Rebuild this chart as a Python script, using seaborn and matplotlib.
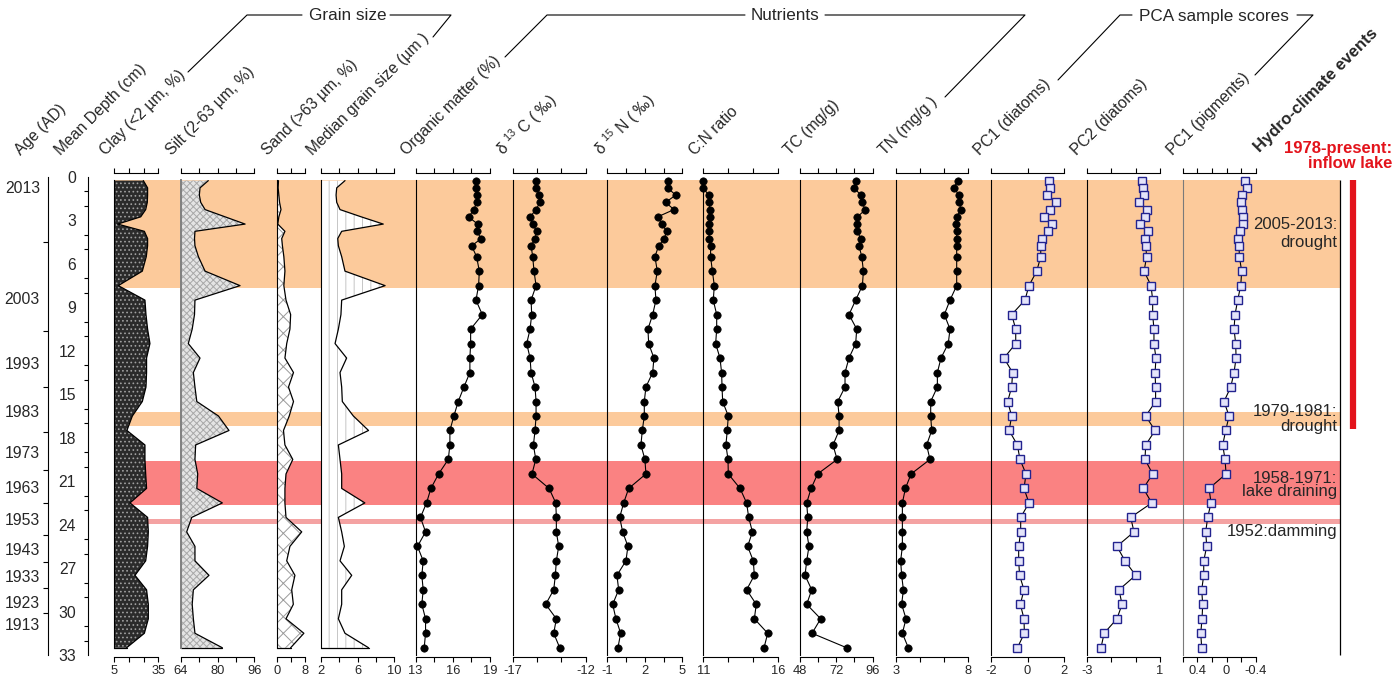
import matplotlib
matplotlib.use("Agg")
import matplotlib.pyplot as plt
import seaborn as sns
import numpy as np
from matplotlib.lines import Line2D

# ---------------- data ----------------
depth = [0.25, 0.75, 1.25, 1.75, 2.25, 2.75, 3.25, 3.75, 4.25, 4.75,
         5.5, 6.5, 7.5, 8.5, 9.5, 10.5, 11.5, 12.5, 13.5, 14.5, 15.5, 16.5,
         17.5, 18.5, 19.5, 20.5, 21.5, 22.5, 23.5, 24.5, 25.5, 26.5, 27.5,
         28.5, 29.5, 30.5, 31.5, 32.5]

clay = [24.8, 27.7, 27.7, 27.5, 26.4, 23.0, 7.3, 25.5, 27.7, 27.7,
        26.8, 24.1, 7.7, 25.9, 26.6, 27.7, 29.3, 27.0, 27.0, 26.6, 24.1, 17.3,
        13.6, 25.9, 25.9, 26.4, 27.0, 15.7, 27.7, 28.2, 27.7, 26.4, 19.1,
        27.0, 28.2, 28.2, 25.5, 13.4]
silt = [76.0, 72.4, 72.1, 72.7, 74.6, 83.3, 92.0, 70.2, 70.0, 70.2,
        71.7, 74.6, 89.8, 70.2, 70.0, 69.0, 67.3, 72.4, 69.5, 70.2, 71.0, 80.4,
        85.0, 70.5, 70.2, 71.4, 71.0, 82.1, 68.8, 66.6, 70.2, 70.2, 76.3,
        69.5, 69.0, 69.5, 70.2, 82.1]
sand = [0.5, 0.4, 0.6, 0.8, 1.2, 0.6, 0.3, 2.3, 1.4, 1.6,
        2.0, 2.3, 2.0, 2.6, 3.9, 3.7, 2.8, 2.3, 4.7, 3.3, 4.7, 3.5,
        1.9, 2.3, 4.5, 2.6, 2.3, 2.3, 2.6, 7.0, 3.7, 2.8, 5.1,
        4.2, 4.65, 2.6, 7.6, 3.9]
median = [4.64, 3.74, 3.67, 3.74, 4.1, 6.4, 8.8, 4.28, 3.85, 3.92,
          4.28, 4.64, 9.0, 4.28, 4.2, 3.92, 3.56, 4.82, 4.1, 4.28, 4.35, 5.55,
          7.2, 3.92, 4.1, 4.28, 4.28, 6.8, 3.92, 4.28, 4.57, 4.1, 5.37,
          4.28, 4.28, 3.92, 4.64, 7.2]

om = [17.87, 17.87, 17.92, 17.92, 17.71, 17.28, 18.0, 17.92, 18.3, 17.52,
      17.92, 18.14, 18.08, 17.87, 18.38, 17.44, 17.44, 17.38, 17.38, 16.9, 16.44, 16.09,
      15.77, 15.77, 15.64, 14.86, 14.24, 13.89, 13.4, 13.81, 13.16, 13.62, 13.51,
      13.62, 13.51, 13.81, 13.81, 13.7]
d13c = [-15.40, -15.40, -15.17, -15.13, -15.40, -15.81, -15.63, -15.36, -15.47, -15.74,
        -15.63, -15.54, -15.40, -15.74, -15.70, -15.81, -16.04, -15.81, -15.74, -15.47, -15.40, -15.40,
        -15.47, -15.58, -15.42, -15.68, -14.51, -14.05, -14.01, -14.01, -13.85, -14.01, -14.08,
        -14.19, -14.74, -14.01, -14.19, -13.78]
d15n = [3.83, 3.83, 4.47, 3.67, 4.33, 3.03, 3.37, 3.75, 3.56, 3.11,
        2.81, 3.0, 2.81, 2.89, 2.63, 2.25, 2.31, 2.73, 2.63, 2.09, 1.96, 1.96,
        1.8, 1.69, 2.01, 2.09, 0.71, 0.31, -0.01, 0.23, 0.65, 0.49, -0.23,
        -0.09, -0.57, -0.31, 0.07, -0.15]
cn = [10.96, 10.96, 11.38, 11.38, 11.45, 11.45, 11.38, 11.40, 11.38, 11.49,
      11.49, 11.61, 11.74, 11.67, 11.90, 11.90, 11.83, 12.12, 12.23, 12.26, 12.30, 12.68,
      12.61, 12.52, 12.66, 12.68, 13.47, 13.91, 14.05, 14.30, 13.98, 14.36, 14.43,
      13.91, 14.56, 14.43, 15.33, 15.08]
tc = [84.8, 83.9, 88.1, 88.8, 91.2, 86.0, 85.5, 85.9, 88.1, 87.0,
      88.8, 89.9, 89.2, 84.8, 80.4, 85.5, 84.8, 80.4, 77.8, 77.8, 73.0, 73.9,
      73.9, 69.9, 72.6, 59.8, 55.5, 52.6, 53.3, 52.6, 54.1, 52.6, 51.5,
      55.9, 52.6, 61.8, 56.1, 78.9]
tn = [7.27, 7.01, 7.36, 7.36, 7.50, 7.20, 7.15, 7.20, 7.20, 7.20,
      7.20, 7.20, 7.20, 6.74, 6.35, 6.74, 6.62, 6.12, 5.87, 5.87, 5.41, 5.41,
      5.48, 5.13, 5.36, 4.06, 3.67, 3.46, 3.46, 3.46, 3.46, 3.34, 3.41,
      3.53, 3.41, 3.71, 3.46, 3.87]
pc1_diatoms = [1.17, 1.22, 1.04, 1.53, 1.22, 0.91, 1.35, 1.10, 0.77, 0.72,
               0.72, 0.50, 0.08, -0.14, -0.86, -0.64, -0.64, -1.28, -0.81, -0.86, -1.08, -0.86,
               -1.0, -0.55, -0.41, -0.08, -0.19, 0.08, -0.37, -0.37, -0.48, -0.48, -0.43,
               -0.19, -0.39, -0.19, -0.17, -0.55]
pc2_diatoms = [0.04, 0.07, 0.15, -0.15, 0.27, 0.20, -0.09, 0.35, 0.18, 0.22,
               0.27, 0.13, 0.51, 0.60, 0.60, 0.67, 0.67, 0.78, 0.73, 0.76, 0.76, 0.22,
               0.73, 0.22, 0.18, 0.60, 0.09, 0.55, -0.60, -0.42, -1.35, -0.91, -0.33,
               -1.24, -1.07, -1.35, -2.05, -2.22]
pc1_pigments = [-0.254, -0.277, -0.217, -0.199, -0.208, -0.222, -0.231, -0.185, -0.163, -0.172,
                -0.176, -0.208, -0.195, -0.153, -0.117, -0.103, -0.126, -0.131, -0.103, -0.058, 0.034, -0.035,
                0.011, 0.052, 0.020, 0.006, 0.239, 0.212, 0.258, 0.285, 0.271, 0.312, 0.312,
                0.340, 0.326, 0.335, 0.353, 0.340]

age_labels = [2013, 2003, 1993, 1983, 1973, 1963, 1953, 1943, 1933, 1923, 1913]
age_depths = [0.67, 8.38, 12.87, 16.17, 18.97, 21.43, 23.62, 25.69, 27.53, 29.33, 30.89]
age_minor_depths = [4.47, 10.63, 14.48, 17.59, 20.23, 22.53, 24.72, 26.61, 28.40, 30.13]

event_top = [0.2, 16.25, 19.6, 23.62]
event_bottom = [7.64, 17.18, 22.63, 23.94]
event_colors = ["#fcca9b", "#fcca9b", "#fa8282", "#f4a2a2"]
event_texts = ["2005-2013:\ndrought", "1979-1981:\ndrought",
               "1958-1971:\nlake draining", "1952:damming"]
inflow_top, inflow_bottom = 0.2, 17.4

# ---------------- style ----------------
sns.set_style("white")
plt.rcParams["font.family"] = ["Liberation Sans", "DejaVu Sans"]
plt.rcParams["mathtext.fontset"] = "custom"
plt.rcParams["mathtext.rm"] = "Liberation Sans"
plt.rcParams["mathtext.default"] = "regular"
plt.rcParams["axes.unicode_minus"] = False
plt.rcParams["hatch.linewidth"] = 0.7

W, H = 1398, 689
fig = plt.figure(figsize=(W / 100, H / 100), dpi=100, facecolor="white")
Y0, Y1 = 177, 655


def fx(x):
    return x / W


def fy(y):
    return 1 - y / H


def axpix(x0, x1, y0=Y0, y1=Y1):
    return fig.add_axes([x0 / W, 1 - y1 / H, (x1 - x0) / W, (y1 - y0) / H])


# background bands
bg = axpix(114, 1340)
bg.set_xlim(0, 1)
bg.set_ylim(33, 0)
bg.axis("off")
for t, b, c in zip(event_top, event_bottom, event_colors):
    bg.axhspan(t, b, color=c, lw=0, zorder=0)
bg.vlines(1.0, 0.2, 33, color="black", lw=0.9, clip_on=False)
bg.vlines((1353 - 114) / (1340 - 114), inflow_top, inflow_bottom, color="#e3131b",
          lw=4.5, clip_on=False)

# ---------------- axes helpers ----------------
def style(ax, lo, hi, ticks, labels, left_bottom=33.0, leftcolor="black", leftlw=0.8):
    ax.set_xlim(lo, hi)
    ax.set_ylim(33, 0)
    ax.patch.set_alpha(0)
    ax.spines["right"].set_visible(False)
    ax.spines["left"].set_bounds(0.2, left_bottom)
    ax.spines["left"].set_color(leftcolor)
    ax.spines["top"].set_position(("outward", 3.2))
    ax.spines["bottom"].set_position(("outward", 1.4))
    for s in ["top", "bottom"]:
        ax.spines[s].set_linewidth(0.8)
        ax.spines[s].set_color("black")
    ax.spines["left"].set_linewidth(leftlw)
    ax.set_xticks(ticks)
    ax.set_xticklabels(labels)
    ax.set_yticks([])
    ax.set_xlabel("")
    ax.set_ylabel("")
    ax.tick_params(axis="x", top=True, bottom=True, labeltop=False, labelbottom=True,
                   direction="out", length=3.6, width=0.8, labelsize=9.3, pad=2.5,
                   color="black")
    ax.tick_params(axis="y", left=False, labelleft=False)


def fill_panel(x0, x1, lo, vals, hi, ticks, labels, face, hatch, hcolor,
               leftcolor="black", leftlw=0.8):
    ax = axpix(x0, x1)
    ax.fill_betweenx(depth, lo, vals, facecolor=face, edgecolor=hcolor, hatch=hatch,
                     linewidth=0, zorder=1)
    sns.lineplot(x=vals, y=depth, orient="y", estimator=None, errorbar=None,
                 color="black", linewidth=0.9, ax=ax, zorder=2)
    ax.plot([lo, vals[-1]], [depth[-1], depth[-1]], color="black", lw=0.9, zorder=2)
    style(ax, lo, hi, ticks, labels, left_bottom=32.5, leftcolor=leftcolor, leftlw=leftlw)
    return ax


def dot_panel(x0, x1, lo, hi, vals, ticks, labels, pca=False, leftcolor="black"):
    ax = axpix(x0, x1)
    if pca:
        sns.lineplot(x=vals, y=depth, orient="y", estimator=None, errorbar=None,
                     color="black", linewidth=0.8, marker="s", markersize=5.2,
                     markerfacecolor="#e4e4fa", markeredgecolor="#23238f",
                     markeredgewidth=1.0, ax=ax, clip_on=False)
    else:
        sns.lineplot(x=vals, y=depth, orient="y", estimator=None, errorbar=None,
                     color="black", linewidth=0.8, marker="o", markersize=5.3,
                     markerfacecolor="black", markeredgecolor="black",
                     markeredgewidth=0.5, ax=ax, clip_on=False)
    style(ax, lo, hi, ticks, labels, leftcolor=leftcolor)
    return ax


# grain size panels
fill_panel(114.3, 158.3, 5, clay, 35, [5, 15, 25, 35], ["5", "", "", "35"],
           "#2b2b2b", "....", "#a0a0a0")
fill_panel(180.7, 254.3, 64, silt, 96, [64, 72, 80, 88, 96], ["64", "", "80", "", "96"],
           "#e4e4e4", "xxxxx", "#a8a8a8", leftcolor="#808080", leftlw=1.4)
fill_panel(276.7, 305.3, 0, sand, 8, [0, 4, 8], ["0", "", "8"],
           "white", "xx", "#9a9a9a")
fill_panel(320.7, 394.3, 2, median, 10, [2, 4, 6, 8, 10], ["2", "", "6", "", "10"],
           "white", "||", "#c6c6c6")

# nutrient panels
dot_panel(415.5, 490.0, 13, 19, om, [13, 14.5, 16, 17.5, 19], ["13", "", "16", "", "19"])
dot_panel(512.7, 585.7, -17, -12, d13c, [-17, -17 + 5 / 3, -17 + 10 / 3, -12], ["-17", "", "", "-12"])
dot_panel(607.3, 682.3, -1, 5, d15n, [-1, 0.5, 2, 3.5, 5], ["-1", "", "2", "", "5"])
dot_panel(703.3, 777.7, 11, 16, cn, [11, 11 + 5 / 3, 11 + 10 / 3, 16], ["11", "", "", "16"])
dot_panel(799.7, 872.7, 48, 96, tc, [48, 60, 72, 84, 96], ["48", "", "72", "", "96"])
dot_panel(895.7, 968.3, 3, 8, tn, [3, 3 + 5 / 3, 3 + 10 / 3, 8], ["3", "", "", "8"])

# PCA panels
dot_panel(990.7, 1064.3, -2, 2, pc1_diatoms, [-2, 0, 2], ["-2", "0", "2"], pca=True)
dot_panel(1086.7, 1160.0, -3, 1, pc2_diatoms, [-3, -3 + 4 / 3, -3 + 8 / 3, 1], ["-3", "", "", "1"], pca=True)
dot_panel(1182.7, 1255.7, 0.6, -0.4, pc1_pigments, [0.6, 0.4, 0.2, 0.0, -0.2, -0.4],
          ["", "0.4", "", "0", "", "-0.4"], pca=True, leftcolor="#7a7a7a")

# age axis
ax_age = axpix(48, 49)
ax_age.set_ylim(33, 0)
ax_age.patch.set_alpha(0)
for s in ["right", "top", "bottom"]:
    ax_age.spines[s].set_visible(False)
ax_age.spines["left"].set_linewidth(0.8)
ax_age.spines["left"].set_color("black")
ax_age.set_xticks([])
ax_age.set_yticks(age_depths)
ax_age.set_yticklabels([str(a) for a in age_labels])
ax_age.set_yticks(age_minor_depths, minor=True)
ax_age.tick_params(axis="y", which="major", direction="out", length=4.8, width=0.8,
                   labelsize=11.3, pad=1.0, color="black")
ax_age.tick_params(axis="y", which="minor", direction="out", length=3.6, width=0.8,
                   color="black", left=True)

# depth axis
ax_d = axpix(88, 89)
ax_d.set_ylim(33, 0)
ax_d.patch.set_alpha(0)
for s in ["right", "top", "bottom"]:
    ax_d.spines[s].set_visible(False)
ax_d.spines["left"].set_linewidth(0.8)
ax_d.spines["left"].set_color("black")
ax_d.set_xticks([])
ax_d.set_yticks(np.arange(0, 34, 3))
ax_d.set_yticks(np.arange(0, 34, 1), minor=True)
ax_d.tick_params(axis="y", which="major", direction="out", length=4.1, width=0.8,
                 labelsize=11.3, pad=4.5, color="black")
ax_d.tick_params(axis="y", which="minor", direction="out", length=2.9, width=0.8,
                 color="black", left=True)

# ---------------- header labels ----------------
header = [("Age (AD)", 21), ("Mean Depth (cm)", 61), ("Clay (<2 µm, %)", 106),
          ("Silt (2-63 µm, %)", 172), ("Sand (>63 µm, %)", 268),
          ("Median grain size (µm )", 313), ("Organic matter (%)", 407),
          (r"δ $^{13}$ C ( ‰)", 503), (r"δ $^{15}$ N ( ‰)", 601),
          ("C:N ratio", 695), ("TC (mg/g)", 790), ("TN (mg/g )", 885),
          ("PC1 (diatoms)", 980), ("PC2 (diatoms)", 1077), ("PC1 (pigments)", 1173)]
for txt, x in header:
    fig.text(fx(x), fy(156), txt, rotation=45, rotation_mode="anchor",
             ha="left", va="baseline", fontsize=11.3)
fig.text(fx(1260), fy(153), "Hydro-climate events", rotation=45, rotation_mode="anchor",
         ha="left", va="baseline", fontsize=12, fontweight="bold")


def fline(pts):
    fig.add_artist(Line2D([fx(p[0]) for p in pts], [fy(p[1]) for p in pts],
                          color="black", lw=0.8, transform=fig.transFigure))


fline([(188, 72), (247, 15), (302, 15)])
fline([(390, 15), (451, 15), (433, 37)])
fig.text(fx(348), fy(16), "Grain size", ha="center", va="center", fontsize=12.3)
fline([(505, 57), (547, 15), (745, 15)])
fline([(825, 15), (1025, 15), (945, 97)])
fig.text(fx(785), fy(16), "Nutrients", ha="center", va="center", fontsize=12.3)
fline([(1058, 80), (1120, 15), (1132, 15)])
fline([(1297, 15), (1313, 15), (1255, 75)])
fig.text(fx(1214), fy(16), "PCA sample scores", ha="center", va="center", fontsize=12.3)

# ---------------- hydro-climate texts ----------------
fig.text(fx(1392), fy(156), "1978-present:\ninflow lake", ha="right", va="center",
         multialignment="right", fontsize=12, fontweight="bold", color="#e3131b",
         linespacing=1.05)
text_y = [233.5, 419, 485, 531.7]
text_ls = [1.2, 1.05, 0.85, 1.0]
for t, y, ls in zip(event_texts, text_y, text_ls):
    fig.text(fx(1337), fy(y), t, ha="right", va="center", multialignment="right",
             fontsize=12, linespacing=ls)

fig.savefig("out.png", dpi=100, facecolor="white")
